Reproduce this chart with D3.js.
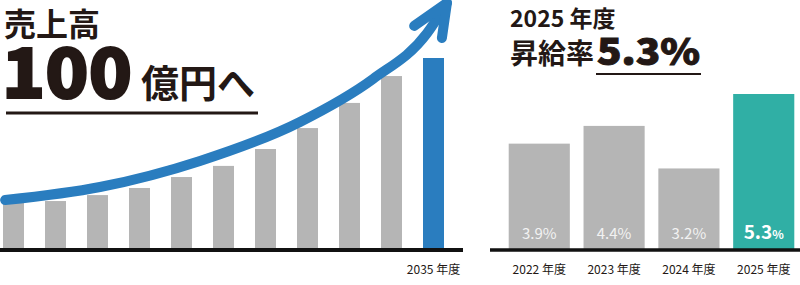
<!DOCTYPE html>
<html lang="ja">
<head>
<meta charset="UTF-8">
<title>売上高・昇給率</title>
<script src="https://d3js.org/d3.v7.min.js"></script>
<style>
body { margin: 0; background: #fff; }
svg { display: block; }
text { font-family: "Noto Sans CJK JP", "Noto Sans", sans-serif; fill: #231815; }
</style>
</head>
<body>
<script>
// left: sales growth to 2035
const salesYears = ["2025","2026","2027","2028","2029","2030","2031","2032","2033","2034","2035"]
const salesValues = [24.5, 25.5, 28.6, 32.3, 38.0, 43.8, 52.6, 63.5, 76.6, 90.6, 100]
// arrow trend, in (category index, value) units
const arrowIdx = [-0.2, 2.06, 4.44, 6.82, 8.56, 9.85, 10.32]
const arrowVal = [26, 32.8, 46.4, 66.7, 89.1, 113, 128.7]
const headIdx = [9.54, 10.32, 10.2]
const headVal = [116.7, 128.7, 110.4]

// right: pay raise rate
const raiseYears = ["2022","2023","2024","2025"]
const raiseRates = [3.9, 4.4, 3.2, 5.3]

const grey = "#b5b5b5", blue = "#2a7dbf", teal = "#30afa5", ink = "#231815"

const svg = d3.select("body").append("svg")
    .attr("width", 800).attr("height", 285)

// ---------- left chart ----------
const x = d3.scaleBand().domain(salesYears)
    .range([-7.5, 454.5]).paddingInner(0.5).paddingOuter(0.25)
const y = d3.scaleLinear().domain([0, 100]).range([250, 58])
const bw = x.bandwidth()
const xi = d3.scaleLinear().domain([0, salesYears.length - 1])
    .range([x(salesYears[0]) + bw / 2, x(salesYears[salesYears.length - 1]) + bw / 2])

const left = svg.append("g")

left.selectAll("rect").data(salesValues).enter().append("rect")
    .attr("x", (d, i) => x(salesYears[i]))
    .attr("y", d => y(d))
    .attr("width", bw)
    .attr("height", d => y(0) - y(d))
    .attr("fill", (d, i) => i === salesValues.length - 1 ? blue : grey)

left.append("line")
    .attr("x1", 0).attr("x2", 463).attr("y1", y(0)).attr("y2", y(0))
    .attr("stroke", "#111").attr("stroke-width", 4)

const lx = d3.axisBottom(x).tickSize(0).tickPadding(15)
    .tickFormat(d => d === "2035" ? d + " 年度" : "")
const gx = left.append("g").attr("transform", `translate(0,${y(0)})`).call(lx)
gx.select(".domain").remove()
gx.selectAll("text").style("font-family", '"Noto Sans CJK JP", sans-serif')
    .attr("font-size", 12).attr("fill", "#333")

const arrowLine = d3.line().x(d => xi(d[0])).y(d => y(d[1])).curve(d3.curveMonotoneX)
left.append("path")
    .attr("d", arrowLine(d3.zip(arrowIdx, arrowVal)))
    .attr("fill", "none").attr("stroke", blue).attr("stroke-width", 10)
    .attr("stroke-linecap", "round")
left.append("path")
    .attr("d", d3.line().x(d => xi(d[0])).y(d => y(d[1]))(d3.zip(headIdx, headVal)))
    .attr("fill", "none").attr("stroke", blue).attr("stroke-width", 10)
    .attr("stroke-linecap", "round").attr("stroke-linejoin", "round")

// title
svg.append("text").attr("x", 4).attr("y", 36)
    .attr("font-size", 32).attr("font-weight", 700).text("売上高")
svg.append("text").attr("x", 2).attr("y", 98)
    .attr("font-size", 67).attr("font-weight", 900)
    .attr("textLength", 130).attr("lengthAdjust", "spacingAndGlyphs")
    .attr("stroke", ink).attr("stroke-width", 2)
    .text("100")
svg.append("text").attr("x", 141).attr("y", 97)
    .attr("font-size", 38).attr("font-weight", 700).text("億円へ")
svg.append("line").attr("x1", 6).attr("x2", 258).attr("y1", 113).attr("y2", 113)
    .attr("stroke", ink).attr("stroke-width", 3)

// ---------- right chart ----------
const xr = d3.scaleBand().domain(raiseYears)
    .range([490, 813]).paddingInner(0.183).paddingOuter(0.25)
const yr = d3.scaleLinear().domain([0.9, 5.3]).range([250, 94])
const last = raiseYears.length - 1

const right = svg.append("g")
right.selectAll("rect").data(raiseRates).enter().append("rect")
    .attr("x", (d, i) => xr(raiseYears[i]))
    .attr("y", d => yr(d))
    .attr("width", xr.bandwidth())
    .attr("height", d => yr.range()[0] - yr(d))
    .attr("fill", (d, i) => i === last ? teal : grey)

right.append("line")
    .attr("x1", 490).attr("x2", 800).attr("y1", 250).attr("y2", 250)
    .attr("stroke", "#111").attr("stroke-width", 3.5)

const vals = right.selectAll(".val").data(raiseRates).enter().append("text")
    .attr("class", "val")
    .attr("x", (d, i) => xr(raiseYears[i]) + xr.bandwidth() / 2)
    .attr("y", 239)
    .attr("text-anchor", "middle")
vals.filter((d, i) => i !== last)
    .attr("font-size", 15).style("fill", "#f2f2f2")
    .text(d => d.toFixed(1) + "%")
const big = vals.filter((d, i) => i === last).style("fill", "#fff").attr("font-weight", 700)
big.append("tspan").attr("font-size", 19).style("fill", "#fff").text(d => d.toFixed(1))
big.append("tspan").attr("font-size", 12).style("fill", "#fff").text("%")

const rx = d3.axisBottom(xr).tickSize(0).tickPadding(15).tickFormat(d => d + " 年度")
const grx = right.append("g").attr("transform", "translate(0,250)").call(rx)
grx.select(".domain").remove()
grx.selectAll("text").style("font-family", '"Noto Sans CJK JP", sans-serif')
    .attr("font-size", 12).attr("fill", "#333")

svg.append("text").attr("x", 510).attr("y", 27)
    .attr("font-size", 23).attr("font-weight", 700).text("2025 年度")
svg.append("text").attr("x", 510).attr("y", 64)
    .attr("font-size", 28).attr("font-weight", 700).text("昇給率")
svg.append("text").attr("x", 597).attr("y", 65)
    .attr("font-size", 36).attr("font-weight", 900)
    .attr("textLength", 103).attr("lengthAdjust", "spacingAndGlyphs")
    .attr("stroke", ink).attr("stroke-width", 1)
    .text(raiseRates[last].toFixed(1) + "%")
svg.append("line").attr("x1", 596).attr("x2", 701).attr("y1", 74).attr("y2", 74)
    .attr("stroke", ink).attr("stroke-width", 2)
</script>
</body>
</html>
